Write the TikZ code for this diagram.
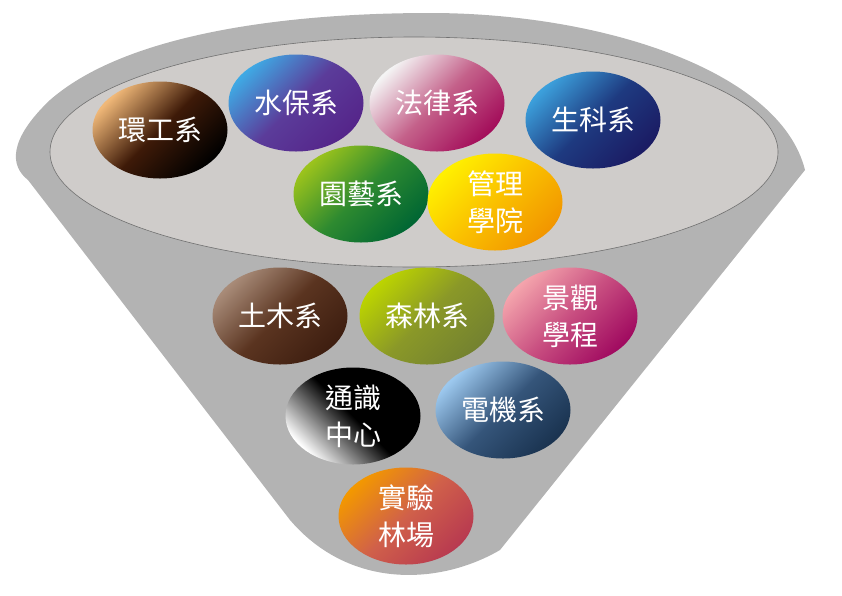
\documentclass[tikz,border=0pt]{standalone}
\usepackage{fontspec}
\newfontfamily\cjk{Noto Sans CJK TC}
\usepackage{tikz}
\usetikzlibrary{shapes.geometric}
\definecolor{funnelgray}{HTML}{B3B3B3}
\definecolor{bowlgray}{HTML}{CFCCCA}
\definecolor{rimgray}{HTML}{707070}
\definecolor{hkA}{HTML}{F0B878}\definecolor{hkB}{HTML}{3E1A08}
\definecolor{sbA}{HTML}{3FA9E4}\definecolor{sbB}{HTML}{5B3C9A}\definecolor{sbC}{HTML}{55258A}
\definecolor{flA}{HTML}{F4F4F4}\definecolor{flB}{HTML}{C4618A}\definecolor{flC}{HTML}{A30D5A}
\definecolor{skA}{HTML}{3CA0DC}\definecolor{skB}{HTML}{1E3A80}\definecolor{skC}{HTML}{1B1B63}
\definecolor{yyA}{HTML}{9BC31C}\definecolor{yyB}{HTML}{2E8A30}\definecolor{yyC}{HTML}{006633}
\definecolor{glA}{HTML}{FFF000}\definecolor{glB}{HTML}{FAC000}\definecolor{glC}{HTML}{F29600}
\definecolor{tmA}{HTML}{A88B78}\definecolor{tmB}{HTML}{5A3420}\definecolor{tmC}{HTML}{3E1E10}
\definecolor{slA}{HTML}{BCD400}\definecolor{slB}{HTML}{8A9828}\definecolor{slC}{HTML}{748230}
\definecolor{jgA}{HTML}{F4A4AC}\definecolor{jgB}{HTML}{C84E80}\definecolor{jgC}{HTML}{A00A60}
\definecolor{djA}{HTML}{9CC8EE}\definecolor{djB}{HTML}{35557A}\definecolor{djC}{HTML}{1A3350}
\definecolor{syA}{HTML}{F39800}\definecolor{syB}{HTML}{D0604A}\definecolor{syC}{HTML}{B83A50}

\begin{document}
\begin{tikzpicture}[x=1pt,y=-1pt,
  ball/.style={ellipse,minimum width=135pt,minimum height=97pt,inner sep=0pt,align=center,
    text=white,font=\cjk\fontsize{28}{37}\selectfont},
  shade3/.style n args={3}{top color=#1,bottom color=#3,middle color=#2,shading angle=45}]
\useasboundingbox (0,0) rectangle (842,595);
\fill[funnelgray] (28,180) .. controls (10,166) and (8,140) .. (50,100)
  .. controls (130,30) and (300,13) .. (430,13)
  .. controls (600,13) and (780,70) .. (805,170) -- (500,550)
  .. controls (440,585) and (350,590) .. (290,520) -- cycle;
\draw[rimgray,fill=bowlgray,line width=0.6pt] (414,152) ellipse [x radius=364,y radius=115];
\node[ball,shade3={hkA}{hkB}{black}] (hk) at (160,130) {環工系};
\node[ball,shade3={sbA}{sbB}{sbC}] (sb) at (296,103) {水保系};
\node[ball,shade3={flA}{flB}{flC}] (fl) at (437,103) {法律系};
\node[ball,shade3={skA}{skB}{skC}] (sk) at (593,120) {生科系};
\node[ball,shade3={yyA}{yyB}{yyC}] (yy) at (361,194) {園藝系};
\node[ball,shade3={glA}{glB}{glC}] (gl) at (495,202) {管理\\學院};
\node[ball,shade3={tmA}{tmB}{tmC}] (tm) at (280,316) {土木系};
\node[ball,shade3={slA}{slB}{slC}] (sl) at (427,316) {森林系};
\node[ball,shade3={jgA}{jgB}{jgC}] (jg) at (570,316) {景觀\\學程};
\node[ball,shade3={black}{black}{white},shading angle=-45] (ts) at (353,416) {通識\\中心};
\node[ball,shade3={djA}{djB}{djC}] (dj) at (503,410) {電機系};
\node[ball,shade3={syA}{syB}{syC}] (sy) at (406,516) {實驗\\林場};
\end{tikzpicture}
\end{document}
